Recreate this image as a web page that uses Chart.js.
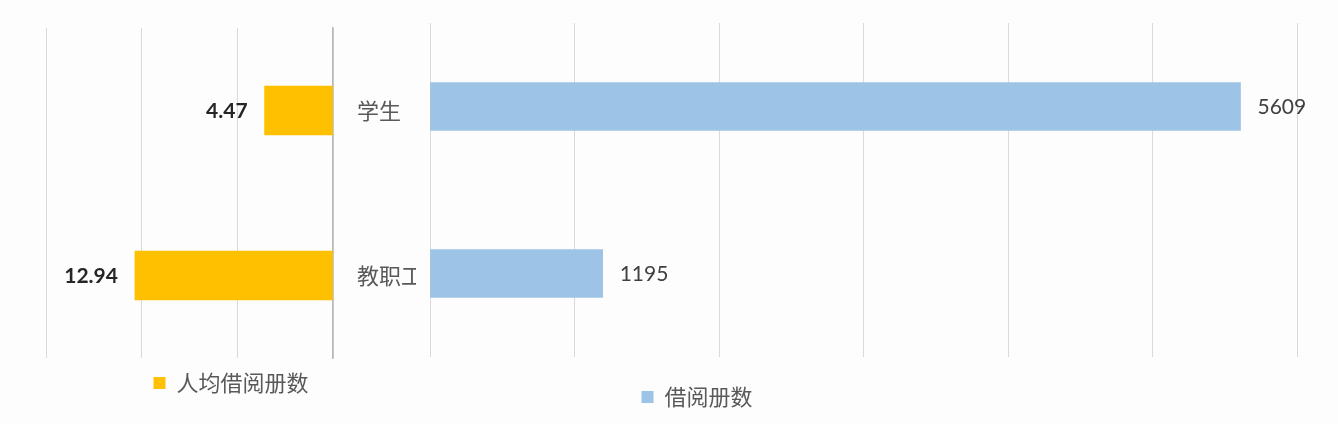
<!DOCTYPE html>
<html>
<head>
<meta charset="utf-8">
<script src="https://cdn.jsdelivr.net/npm/chart.js@4"></script>
<style>
  html, body { margin: 0; padding: 0; background: #fdfdfe; }
  #wrap { position: relative; width: 1338px; height: 424px; overflow: hidden; }
  .box { position: absolute; top: 0; height: 424px; }
  #leftBox { left: 0; width: 450px; }
  #rightBox { left: 97px; width: 1241px; }
</style>
</head>
<body>
<div id="wrap">
  <div class="box" id="leftBox"><canvas id="leftChart"></canvas></div>
  <div class="box" id="rightBox"><canvas id="rightChart"></canvas></div>
</div>
<script>
const categories = ['学生', '教职工'];
const perCapita = [4.47, 12.94];       // 人均借阅册数
const borrowCounts = [5609, 1195];     // 借阅册数
const seriesNames = ['人均借阅册数', '借阅册数'];

const cjkFont = '"Noto Sans CJK SC", "Noto Sans", sans-serif';
const numFont = 'Lato, "Open Sans", sans-serif';
const gridColor = '#d9d9d9';

// value labels next to the end of each bar
const valueLabels = {
    id: 'valueLabels',
    afterDatasetsDraw(chart, args, opts) {
        const ctx = chart.ctx;
        const meta = chart.getDatasetMeta(0);
        const values = chart.data.datasets[0].data;
        ctx.save();
        ctx.font = opts.font;
        ctx.fillStyle = opts.color;
        ctx.textBaseline = 'middle';
        ctx.textAlign = opts.side === 'left' ? 'right' : 'left';
        meta.data.forEach((bar, i) => {
            const x = opts.side === 'left' ? bar.x - opts.gap : bar.x + opts.gap;
            ctx.fillText(String(values[i]), x, bar.y + 1);
        });
        ctx.restore();
    }
};

new Chart(document.getElementById('leftChart').getContext('2d'), {
    type: 'bar',
    data: {
        labels: categories,
        datasets: [{
            label: seriesNames[0],
            data: perCapita,
            backgroundColor: '#ffc000',
            barThickness: 49
        }]
    },
    plugins: [valueLabels],
    options: {
        indexAxis: 'y',
        responsive: true,
        maintainAspectRatio: false,
        animation: false,
        layout: { padding: { left: 46, right: 34, top: 28, bottom: 20 } },
        scales: {
            x: {
                type: 'linear',
                reverse: true,
                min: 0,
                max: 18.75,
                ticks: { display: false, stepSize: 6.25 },
                grid: { color: gridColor, drawTicks: false },
                border: { display: false }
            },
            y: {
                position: 'right',
                grid: { display: false, drawTicks: false },
                border: { display: true, color: '#b8b8b8', width: 1.5 },
                ticks: {
                    padding: 24,
                    color: '#595959',
                    font: { family: cjkFont, size: 22 }
                },
                afterFit(scale) {
                    scale.width = 83;
                    scale.paddingTop = 0;
                    scale.paddingBottom = 0;
                }
            }
        },
        plugins: {
            legend: {
                position: 'bottom',
                labels: {
                    boxWidth: 12,
                    boxHeight: 12,
                    padding: 14,
                    color: '#595959',
                    font: { family: cjkFont, size: 22 }
                }
            },
            tooltip: { enabled: false },
            valueLabels: { side: 'left', gap: 17, color: '#262626', font: 'bold 21px ' + numFont }
        }
    }
});

new Chart(document.getElementById('rightChart').getContext('2d'), {
    type: 'bar',
    data: {
        labels: categories,
        datasets: [{
            label: seriesNames[1],
            data: borrowCounts,
            backgroundColor: '#9dc3e6',
            barThickness: 48
        }]
    },
    plugins: [valueLabels],
    options: {
        indexAxis: 'y',
        responsive: true,
        maintainAspectRatio: false,
        animation: false,
        layout: { padding: { left: 0, right: 41, top: 23, bottom: 6 } },
        scales: {
            x: {
                type: 'linear',
                min: 0,
                max: 6000,
                ticks: { display: false, stepSize: 1000 },
                grid: { color: gridColor, drawTicks: false },
                border: { display: false }
            },
            y: {
                position: 'left',
                grid: { display: false, drawTicks: false },
                border: { display: false },
                ticks: { display: false },
                afterFit(scale) { scale.width = 333; }
            }
        },
        plugins: {
            legend: {
                position: 'bottom',
                labels: {
                    boxWidth: 12,
                    boxHeight: 12,
                    padding: 29,
                    color: '#595959',
                    font: { family: cjkFont, size: 22 }
                }
            },
            tooltip: { enabled: false },
            valueLabels: { side: 'right', gap: 17, color: '#404040', font: '21px ' + numFont }
        }
    }
});
</script>
</body>
</html>
